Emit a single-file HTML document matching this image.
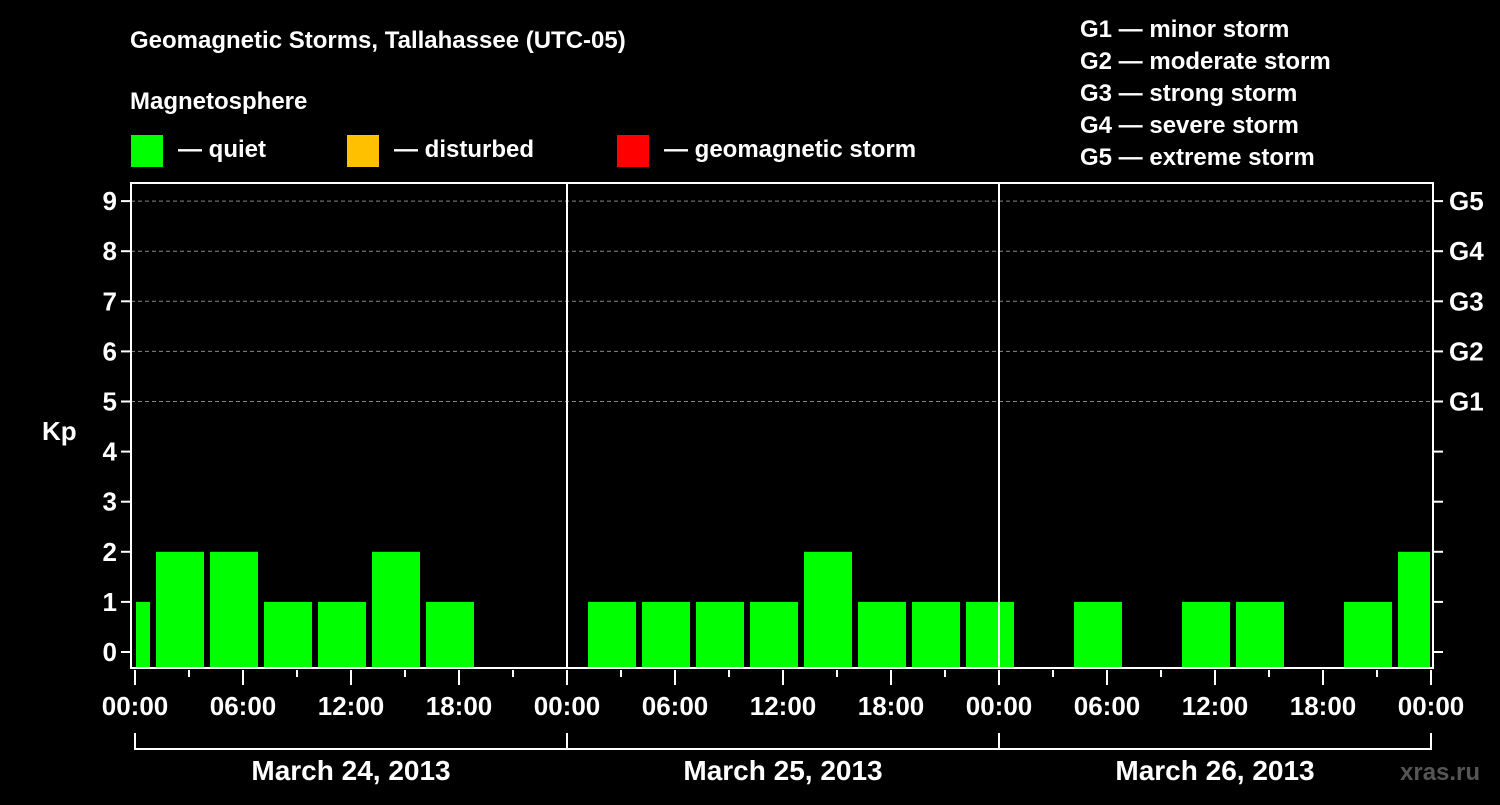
<!DOCTYPE html>
<html><head><meta charset="utf-8"><style>
body{margin:0;background:#000;width:1500px;height:800px;overflow:hidden}
svg text{font-family:"Liberation Sans",Arial,sans-serif;font-weight:bold;fill:#fff}
</style></head><body>
<svg id="chart" width="1500" height="800" viewBox="0 0 1500 800">
<text x="130" y="48" font-size="24">Geomagnetic Storms, Tallahassee (UTC-05)</text>
<text x="130" y="109" font-size="24">Magnetosphere</text>
<g><rect x="131" y="135" width="32" height="32" fill="#00ff00"/><text x="178" y="157" font-size="24">— quiet</text></g>
<g><rect x="347" y="135" width="32" height="32" fill="#ffc000"/><text x="394" y="157" font-size="24">— disturbed</text></g>
<g><rect x="617" y="135" width="32" height="32" fill="#ff0000"/><text x="664" y="157" font-size="24">— geomagnetic storm</text></g>
<g font-size="24">
<text x="1080" y="37">G1 — minor storm</text><text x="1080" y="69">G2 — moderate storm</text><text x="1080" y="101">G3 — strong storm</text><text x="1080" y="133">G4 — severe storm</text><text x="1080" y="165">G5 — extreme storm</text>
</g>
<text x="42" y="440" font-size="26">Kp</text>
<text x="1400" y="780" font-size="24" fill="#555" style="fill:#555">xras.ru</text>
<g id="grid"></g><g id="bars"></g><g id="axes"></g>
</svg>
<script>
const yTicks=[0,1,2,3,4,5,6,7,8,9];
const gLabels=["G1","G2","G3","G4","G5"];
const dayLabels=["March 24, 2013","March 25, 2013","March 26, 2013"];
const hourLabels=["00:00","06:00","12:00","18:00"];
// Kp per 3-hour block, local start hour relative to first midnight (null = no data)
const blockStarts=[-2,1,4,7,10,13,16,19,22,25,28,31,34,37,40,43,46,49,52,55,58,61,64,67,70];
const kpValues=[1,2,2,1,1,2,1,null,null,1,1,1,1,2,1,1,1,null,1,null,1,1,null,1,2];
const colorFor=v=>v>=5?"#ff0000":v>=4?"#ffc000":"#00ff00";
const L=131,R=1433,T=183,B=668;
const x=h=>135+h*18;
const y=v=>652-v*50.1;
const NS="http://www.w3.org/2000/svg";
function mk(p,tag,a){const e=document.createElementNS(NS,tag);for(const k in a)e.setAttribute(k,a[k]);document.getElementById(p).appendChild(e);return e;}
yTicks.forEach(v=>{
  if(v>=5){const g=mk("grid","line",{x1:L,x2:R,y1:y(v),y2:y(v),stroke:"#888","stroke-dasharray":"4,3"});
  
  }
  mk("axes","line",{x1:L-10,x2:L,y1:y(v),y2:y(v),stroke:"#fff","stroke-width":2});
  mk("axes","line",{x1:R,x2:R+10,y1:y(v),y2:y(v),stroke:"#fff","stroke-width":2});
  const t=mk("axes","text",{x:L-14,y:y(v)+9,"font-size":26,"text-anchor":"end"});t.textContent=v;
  
  
});
gLabels.forEach((g,i)=>{const t=mk("axes","text",{x:1449,y:y(i+5)+9,"font-size":26});t.textContent=g;
  
  });
blockStarts.forEach((h,i)=>{const v=kpValues[i];if(v===null)return;
  let x0=Math.max(x(h)+3,x(0)+1),x1=Math.min(x(h+3)-3,x(72)-1);
  const r=mk("bars","rect",{x:x0,y:y(v),width:x1-x0,height:B-y(v),fill:colorFor(v)});
  
  
});
mk("axes","rect",{x:L,y:T,width:R-L,height:B-T,fill:"none",stroke:"#fff","stroke-width":2});
[1,2].forEach(d=>mk("axes","line",{x1:x(d*24),x2:x(d*24),y1:T,y2:B,stroke:"#fff","stroke-width":2}));
for(let h=0;h<=72;h+=3){const maj=h%6===0;mk("axes","line",{x1:x(h),x2:x(h),y1:B+2,y2:maj?B+17:B+9,stroke:"#fff","stroke-width":2});
  if(maj){const t=mk("axes","text",{x:x(h),y:715,"font-size":26,"text-anchor":"middle"});t.textContent=hourLabels[(h/6)%4];
  
  }}
dayLabels.forEach((d,i)=>{
  mk("axes","path",{d:`M${x(i*24)},733V749H${x(i*24+24)}V733`,stroke:"#fff","stroke-width":2,fill:"none"});
  const t=mk("axes","text",{x:x(i*24+12),y:780,"font-size":28,"text-anchor":"middle"});t.textContent=d;
  
  
});
</script>
</body></html>
